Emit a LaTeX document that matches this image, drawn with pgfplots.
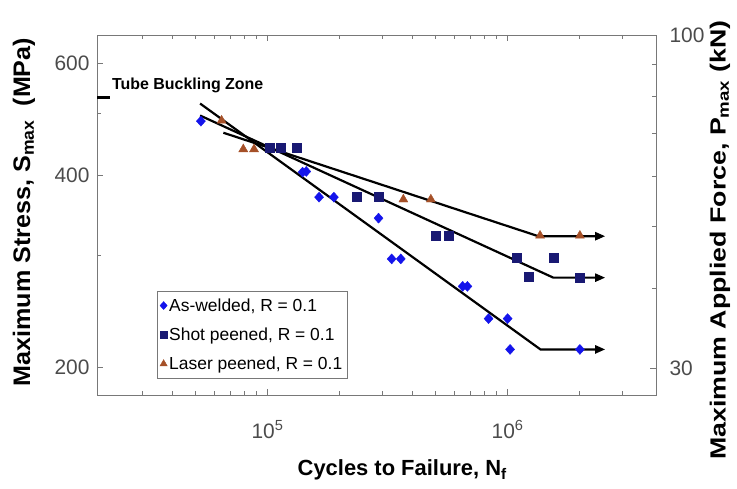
\documentclass[border=0pt]{standalone}
\usepackage{pgfplots}
\pgfplotsset{compat=1.18}
\usepackage{fontspec}
\setmainfont{Liberation Sans}
\usetikzlibrary{arrows.meta}
\definecolor{awblue}{RGB}{20,20,235}
\definecolor{spnavy}{RGB}{25,25,115}
\definecolor{lpbrown}{RGB}{165,80,40}
\definecolor{axgray}{RGB}{120,120,120}
\definecolor{tickgray}{RGB}{75,75,75}
\begin{document}
\begin{tikzpicture}
\begin{axis}[
  at={(0,0)}, anchor=south west,
  width=559bp, height=360bp, scale only axis,
  xmode=log, ymode=log,
  xmin=1.95e4, xmax=4.15e6, ymin=181, ymax=665,
  clip=false,
  xtick={1e5,1e6}, xticklabels={10\textsuperscript{5},10\textsuperscript{6}},
  minor xtick={3e4,4e4,5e4,6e4,7e4,8e4,9e4,2e5,3e5,4e5,5e5,6e5,7e5,8e5,9e5,2e6,3e6},
  ytick={200,400,600}, yticklabels={200,400,600}, minor ytick={300,500},
  ytick pos=left, xtick pos=both,
  tick align=inside,
  major tick length=6bp, minor tick length=4bp,
  axis line style={axgray, line width=0.8bp},
  every tick/.style={axgray, line width=0.8bp},
  tick label style={font=\fontsize{21}{25}\selectfont, text=tickgray},
  xticklabel style={yshift=-22bp},
  yticklabel style={xshift=-4bp},
  xlabel={\bfseries Cycles to Failure, N\textsubscript{f}},
  xlabel style={at={(axis description cs:0.546,-0.208)}, anchor=center, font=\fontsize{22}{26}\selectfont},
  ylabel={\scalebox{1.05}[1]{\bfseries Maximum Stress, S\textsubscript{max}\ \ (MPa)}},
  ylabel style={at={(axis description cs:-0.1306,0.508)}, anchor=center, rotate=0, font=\fontsize{24}{28}\selectfont},
  legend style={at={(axis description cs:0.107,0.047)}, anchor=south west,
    draw=axgray, fill=white, font=\fontsize{17.5}{20}\selectfont,
    row sep=11bp, inner xsep=3bp, inner ysep=5bp,
    /tikz/every even column/.append style={column sep=1bp}},
  legend cell align=left,
]
% fitted lines with run-out arrows
\addplot[black, line width=2.2bp, -{Triangle[length=10bp,width=8bp]}, forget plot]
  coordinates {(5.24e4,519) (1.37e6,213.4) (2.55e6,213.4)};
\addplot[black, line width=2.2bp, -{Triangle[length=10bp,width=8bp]}, forget plot]
  coordinates {(5.24e4,497) (1.55e6,276.6) (2.55e6,276.6)};
\addplot[black, line width=2.2bp, -{Triangle[length=10bp,width=8bp]}, forget plot]
  coordinates {(6.55e4,467) (1.343e6,321.3) (2.55e6,321.3)};
% buckling marker
\addplot[black, line width=2.6bp, forget plot] coordinates {(1.95e4,531) (2.2e4,531)};
\node[anchor=west, font=\bfseries\fontsize{16}{19}\selectfont, inner sep=0pt] at (axis cs:2.25e4,555) {Tube Buckling Zone};
% data
\addplot[only marks, mark=diamond*, mark size=5bp, color=awblue, mark options={fill=awblue, xscale=1.2},
  legend image post style={scale=0.8}]
  coordinates {(5.28e4,487) (1.40e5,405) (1.45e5,406) (1.64e5,370) (1.89e5,370)
  (2.9e5,343) (3.29e5,296) (3.59e5,296) (6.5e5,268) (6.8e5,268)
  (8.33e5,238.5) (1.0e6,238.5) (1.024e6,213.4) (2e6,213.4)};
\addlegendentry{As-welded, R = 0.1}
\addplot[only marks, mark=square*, mark size=4.5bp, color=spnavy, mark options={fill=spnavy},
  legend image post style={scale=0.8}]
  coordinates {(1.02e5,443) (1.13e5,443) (1.32e5,443) (2.36e5,370) (2.9e5,370)
  (5.03e5,322) (5.66e5,322) (1.09e6,297) (1.55e6,297) (1.22e6,278) (2e6,277)};
\addlegendentry{Shot peened, R = 0.1}
\addplot[only marks, mark=triangle*, mark size=5.2bp, color=lpbrown, mark options={fill=lpbrown},
  legend image post style={scale=0.8}]
  coordinates {(6.44e4,488) (7.93e4,440) (8.79e4,440) (3.68e5,367) (4.79e5,367)
  (1.365e6,322) (2e6,322)};
\addlegendentry{Laser peened, R = 0.1}
\end{axis}
\begin{axis}[
  at={(0,0)}, anchor=south west,
  width=559bp, height=360bp, scale only axis,
  xmode=log, ymode=log,
  xmin=1.95e4, xmax=4.15e6, ymin=27.22, ymax=100,
  hide x axis, axis y line*=right,
  ytick={30,100}, yticklabels={30,100}, minor ytick={40,50,60,70,80,90},
  tick align=inside,
  major tick length=6bp, minor tick length=4bp,
  axis line style={axgray, line width=0.8bp},
  every tick/.style={axgray, line width=0.8bp},
  tick label style={font=\fontsize{21}{25}\selectfont, text=tickgray},
  yticklabel style={xshift=10bp},
  ylabel={\scalebox{1.22}[1]{\bfseries Maximum Applied Force, P\textsubscript{max} (kN)}},
  ylabel style={at={(axis description cs:1.1145,0.43)}, anchor=center, rotate=0, font=\fontsize{22}{26}\selectfont},
]
\addplot[draw=none, forget plot] coordinates {(1e5,50)};
\end{axis}
\pgfresetboundingbox
\path[use as bounding box] (-97bp,-94bp) rectangle (640bp,395bp);
\end{tikzpicture}
\end{document}
